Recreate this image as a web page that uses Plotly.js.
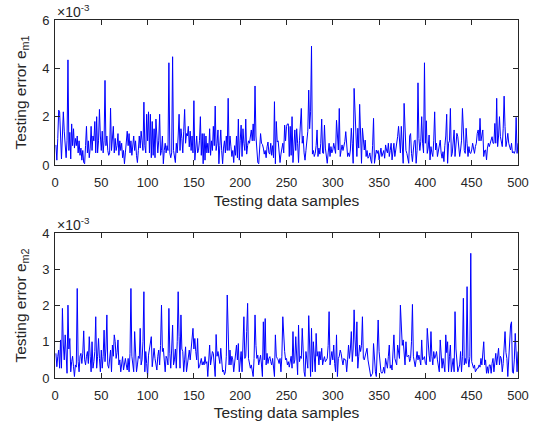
<!DOCTYPE html>
<html><head><meta charset="utf-8">
<script src="https://cdn.plot.ly/plotly-3.0.1.min.js"></script>
<style>html,body{margin:0;padding:0;background:#fff}#chart{width:542px;height:429px}</style>
</head><body><div id="chart"></div>
<script>
// Testing error e_m1 (units of 1e-3), samples 1..500
const errM1 = [
0.83,0.20,1.10,2.27,2.20,0.90,0.25,1.20,2.20,1.40,0.50,0.30,1.00,4.35,0.60,1.35,0.25,1.70,0.80,1.50,0.70,1.10,0.80,1.20,0.50,
1.00,0.40,0.70,0.20,0.60,0.10,0.05,0.80,1.60,0.50,1.00,0.30,0.70,1.60,0.60,1.20,1.00,1.80,0.50,2.00,0.50,1.00,2.30,1.20,0.60,
1.40,0.50,1.00,3.50,0.80,1.20,0.60,0.40,0.50,2.35,0.60,1.00,1.60,0.50,1.10,0.60,0.80,1.30,0.40,1.00,0.60,0.90,0.30,0.60,0.05,
0.50,1.00,1.40,0.80,1.30,0.50,1.00,0.40,0.80,1.20,0.60,1.00,0.40,0.10,0.60,1.20,0.70,1.40,1.00,0.60,2.60,0.80,0.50,2.10,1.00,
2.20,0.50,2.10,0.30,1.80,0.40,1.50,0.30,1.90,1.20,0.50,1.00,2.10,0.40,0.60,1.20,0.05,0.60,0.90,0.50,0.80,0.60,4.23,0.50,0.30,
0.50,4.48,0.60,0.40,0.10,0.90,0.50,1.20,2.10,0.60,1.50,1.10,0.50,1.40,2.30,0.90,1.30,1.20,1.60,0.75,1.40,0.60,1.20,0.50,2.66,
0.20,0.60,1.20,0.50,0.60,1.00,2.00,0.40,1.30,0.05,1.30,0.20,1.20,0.50,0.90,0.50,1.50,0.40,1.00,0.60,1.60,0.80,2.44,0.60,0.90,
1.45,0.05,0.80,1.45,0.60,0.05,0.70,1.00,0.50,1.20,0.60,2.76,0.60,1.20,0.75,0.35,0.60,0.10,0.80,0.40,1.20,0.30,1.90,0.20,1.00,
1.65,0.35,1.50,0.90,0.60,1.90,0.45,0.80,1.00,0.90,1.10,1.45,1.00,1.70,1.00,3.27,1.20,0.60,0.10,0.05,0.60,1.30,0.90,0.85,0.70,
0.45,0.60,0.30,0.75,0.95,0.50,0.45,0.90,0.40,0.80,0.30,2.62,0.05,1.80,0.95,1.00,0.60,0.10,0.45,0.80,0.90,0.50,1.65,1.00,1.60,
1.70,1.70,0.35,1.60,0.40,2.00,0.10,0.80,1.45,0.60,1.50,0.90,0.10,1.00,1.65,2.34,0.90,1.20,0.50,0.20,0.60,0.90,1.40,3.10,1.50,
2.20,4.92,0.45,0.60,0.35,0.48,0.80,1.45,0.35,0.70,0.45,0.90,1.90,0.50,0.48,1.65,0.70,0.35,0.07,0.50,0.90,0.35,0.76,0.50,0.62,
0.90,0.70,0.48,1.85,0.90,0.62,2.34,0.35,0.60,0.83,0.60,0.76,0.97,1.38,0.80,0.35,0.50,0.35,0.62,1.52,0.90,0.07,3.17,2.10,0.80,
0.35,1.52,0.70,2.51,0.50,0.07,1.52,0.90,0.62,1.03,0.35,0.60,0.28,0.35,0.50,0.21,0.07,0.80,1.93,0.07,0.50,0.62,0.48,0.60,0.21,
0.48,0.70,0.35,0.48,0.60,0.28,0.83,0.62,0.50,0.90,0.35,0.60,0.90,0.21,0.60,0.90,0.35,0.60,0.90,1.17,1.60,0.90,0.50,1.60,0.90,
0.07,2.55,1.03,0.60,0.48,0.20,0.07,1.20,1.30,0.48,0.14,0.62,1.00,1.03,0.07,0.60,3.40,1.10,0.60,0.97,2.00,0.90,0.50,4.23,0.90,
1.83,0.48,0.70,1.24,0.21,0.76,0.50,0.35,1.00,2.20,0.62,0.90,0.35,0.62,0.80,1.03,0.50,0.28,0.55,0.14,0.80,1.20,2.10,0.07,0.90,
1.00,2.34,0.35,0.48,0.90,1.45,0.35,0.80,1.31,1.17,0.60,0.35,0.62,1.00,2.34,0.90,0.60,0.48,1.52,0.90,0.35,0.76,0.50,0.48,0.62,
0.90,0.60,0.48,0.76,0.90,1.31,1.45,1.00,1.93,1.00,1.17,1.45,0.35,0.60,0.62,0.21,0.70,0.90,0.76,0.90,1.03,1.17,0.90,0.90,1.72,
0.90,2.76,0.76,1.20,2.00,1.17,0.90,0.76,1.50,2.85,1.59,0.76,1.00,1.31,0.90,0.80,0.62,0.90,0.50,0.55,0.48,0.60,1.97,0.48,0.90
];
// Testing error e_m2 (units of 1e-3), samples 1..500
const errM2 = [
0.68,0.31,0.60,0.77,0.27,1.05,0.27,1.92,0.91,0.50,1.19,0.36,0.13,2.01,0.80,1.09,0.17,0.45,0.60,0.31,0.04,0.36,0.30,2.47,0.45,
0.17,0.60,0.68,0.40,0.68,1.30,0.50,0.36,0.60,0.73,0.40,1.14,0.60,0.17,1.00,0.27,0.45,0.73,1.69,0.27,0.60,1.09,0.54,0.17,0.77,
0.27,0.60,1.32,0.45,0.80,1.74,0.36,0.27,0.50,0.77,0.17,0.91,0.60,1.19,1.00,0.54,0.70,1.05,0.36,0.50,0.17,0.50,0.59,0.22,0.40,
0.54,0.36,0.22,0.54,0.17,0.68,2.47,0.60,0.36,0.17,1.28,0.50,0.17,0.36,0.60,0.54,1.37,0.36,0.50,1.00,2.38,0.17,0.73,0.40,0.04,
0.63,0.80,1.05,1.14,0.31,0.60,0.82,0.54,0.30,0.22,0.60,0.77,0.36,0.90,2.01,0.73,0.82,0.50,0.17,0.60,0.54,0.36,1.92,0.68,0.27,
0.80,1.46,0.36,0.50,0.80,0.27,1.00,2.38,1.14,0.27,1.74,0.80,0.73,0.17,0.50,0.86,0.17,0.36,0.60,0.77,0.50,0.82,0.91,1.37,0.80,
1.09,0.73,0.50,1.09,0.27,0.31,0.45,0.54,0.36,0.45,0.36,0.59,0.40,0.45,0.04,0.60,0.91,0.36,0.60,0.73,0.68,0.30,0.04,1.20,0.60,
0.73,0.54,0.40,0.82,0.36,0.17,0.22,0.09,0.17,0.60,2.29,0.80,0.36,0.77,0.36,0.60,0.50,0.17,0.50,0.82,0.91,0.50,0.95,0.17,0.60,
0.73,0.17,0.80,1.69,0.54,0.60,1.28,2.06,0.54,0.40,0.27,0.36,0.15,0.04,0.54,1.74,0.90,0.54,0.63,0.36,0.50,0.63,0.36,0.04,1.55,
0.50,1.64,0.36,0.68,0.40,0.54,0.59,0.45,0.36,0.54,0.20,0.04,1.19,0.60,0.54,0.50,0.40,0.54,0.17,0.60,1.69,1.05,0.73,0.50,0.54,
0.36,0.45,0.30,0.50,0.60,0.27,1.28,0.40,0.50,1.14,0.50,0.09,1.46,0.45,0.60,0.54,1.37,0.40,0.17,0.04,0.73,0.50,0.27,1.72,0.60,
0.04,1.37,0.17,1.00,0.60,0.17,1.23,0.60,0.73,0.36,0.73,0.50,0.82,0.36,0.50,0.59,0.45,0.50,0.54,0.90,1.83,0.36,0.60,0.73,0.50,
0.91,0.40,0.17,1.19,0.04,0.54,0.60,0.77,0.68,0.50,0.36,0.54,0.50,0.50,0.17,0.50,0.91,0.54,0.80,1.28,0.45,0.80,1.88,1.05,0.60,
1.55,0.27,0.60,0.91,0.73,0.90,1.69,0.54,0.50,0.63,0.70,0.82,0.50,0.36,0.17,0.04,0.09,0.13,0.95,0.40,0.17,0.04,0.60,1.60,0.73,
0.40,0.17,0.13,0.17,0.30,0.13,0.54,0.40,0.27,0.60,0.91,0.27,0.36,0.22,0.60,1.19,0.54,0.40,0.36,0.91,0.60,0.54,2.01,1.19,0.90,
1.05,0.60,0.36,1.00,0.59,0.60,0.63,0.45,0.54,1.00,2.03,0.60,0.36,0.31,0.50,0.73,0.50,0.63,0.50,0.36,1.05,0.50,0.54,0.59,0.40,
0.36,1.37,0.80,0.63,0.45,1.28,0.60,0.36,0.73,0.54,0.60,0.73,0.50,0.27,0.17,1.05,0.50,0.27,0.54,0.40,0.17,1.19,0.70,1.00,0.17,
0.60,0.91,0.17,0.40,0.54,0.17,1.83,0.80,0.54,0.17,0.27,0.36,0.73,0.17,0.60,2.20,0.36,0.54,0.40,2.52,0.54,0.30,0.59,3.44,0.45,
0.30,0.27,0.36,0.17,0.22,0.27,0.27,0.36,0.30,0.54,0.36,0.60,1.00,0.36,0.50,0.13,0.31,0.13,0.36,0.36,0.13,0.40,0.54,0.17,0.40,
0.68,0.36,0.60,0.82,0.36,0.60,0.54,0.17,0.40,0.73,1.28,0.70,0.54,0.04,0.60,1.00,1.46,1.55,0.17,0.13,0.50,1.23,0.60,0.17,0.73
];
const xTickVals = [0,50,100,150,200,250,300,350,400,450,500];
const yTickValsTop = [0,2,4,6];
const yTickValsBottom = [0,1,2,3,4];
const xTitleText = 'Testing data samples';
const yTitleTop = 'Testing error e<sub>m1</sub>';
const yTitleBottom = 'Testing error e<sub>m2</sub>';
const exponentLabel = '\u00d710<sup>-3</sup>';

const samplesM1 = errM1.map((_, i) => i + 1);
const samplesM2 = errM2.map((_, i) => i + 1);

const FONT = 'Liberation Sans, Arial, Helvetica, sans-serif';
const INK = '#262626';
const TITLE_FONT = {family: FONT, size: 15.5, color: INK};
const axisCommon = {
  showline: true, linecolor: INK, linewidth: 1, mirror: 'ticks',
  ticks: 'inside', ticklen: 5, tickcolor: INK, tickwidth: 1,
  showgrid: false, zeroline: false,
  tickfont: {family: FONT, size: 13, color: INK}
};

const traces = [
  {x: samplesM1, y: errM1, type: 'scatter', mode: 'lines', xaxis: 'x', yaxis: 'y',
   line: {color: '#0000ff', width: 1}, hoverinfo: 'skip'},
  {x: samplesM2, y: errM2, type: 'scatter', mode: 'lines', xaxis: 'x2', yaxis: 'y2',
   line: {color: '#0000ff', width: 1}, hoverinfo: 'skip'}
];

const layout = {
  width: 542, height: 429,
  margin: {l: 55, r: 24, t: 20, b: 51},
  paper_bgcolor: '#fff', plot_bgcolor: '#fff',
  showlegend: false,
  font: {family: FONT, color: INK},
  xaxis: Object.assign({}, axisCommon, {domain: [0, 1], range: [0, 500], anchor: 'y',
    tickvals: xTickVals, ticktext: xTickVals.map(String), ticklabelstandoff: 5,
    title: {text: xTitleText, font: TITLE_FONT, standoff: 6}}),
  yaxis: Object.assign({}, axisCommon, {domain: [0.595, 1], range: [0, 6], anchor: 'x',
    tickvals: yTickValsTop, ticktext: yTickValsTop.map(String), ticklabelstandoff: 2,
    title: {text: yTitleTop, font: TITLE_FONT, standoff: 11}}),
  xaxis2: Object.assign({}, axisCommon, {domain: [0, 1], range: [0, 500], anchor: 'y2',
    tickvals: xTickVals, ticktext: xTickVals.map(String), ticklabelstandoff: 5,
    title: {text: xTitleText, font: TITLE_FONT, standoff: 5}}),
  yaxis2: Object.assign({}, axisCommon, {domain: [0, 0.405], range: [0, 4], anchor: 'x2',
    tickvals: yTickValsBottom, ticktext: yTickValsBottom.map(String), ticklabelstandoff: 2,
    title: {text: yTitleBottom, font: TITLE_FONT, standoff: 11}}),
  annotations: [
    {text: exponentLabel, xref: 'paper', yref: 'paper', x: 0, y: 1, xanchor: 'left', yanchor: 'bottom',
     showarrow: false, font: {family: FONT, size: 14, color: INK}, xshift: 0, yshift: -2},
    {text: exponentLabel, xref: 'paper', yref: 'paper', x: 0, y: 0.405, xanchor: 'left', yanchor: 'bottom',
     showarrow: false, font: {family: FONT, size: 14, color: INK}, xshift: 0, yshift: -2}
  ]
};

Plotly.newPlot('chart', traces, layout, {staticPlot: true, displayModeBar: false});
</script>
</body></html>
